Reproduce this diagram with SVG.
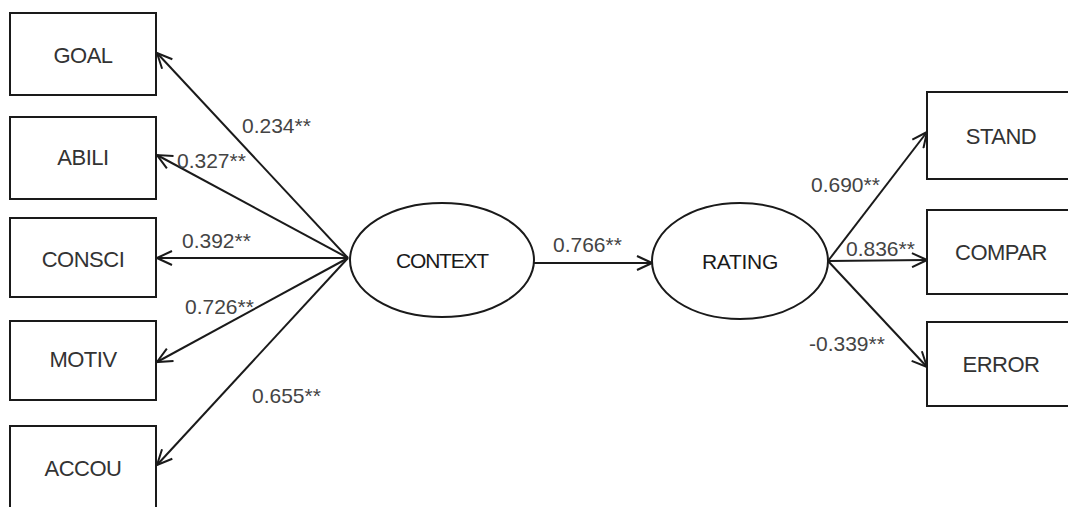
<svg xmlns="http://www.w3.org/2000/svg" width="1068" height="507" viewBox="0 0 1068 507">
<defs>
<marker id="ah" markerUnits="userSpaceOnUse" viewBox="0 0 17 16" refX="16" refY="8" markerWidth="17" markerHeight="16" orient="auto">
<path d="M1,1 L16,8 L1,15" fill="none" stroke="#1a1a1a" stroke-width="2"/>
</marker>
</defs>
<style>
.box{fill:#fff;stroke:#1a1a1a;stroke-width:2}
.ell{fill:#fff;stroke:#1a1a1a;stroke-width:2}
.nl{font-family:"Liberation Sans",Arial,sans-serif;font-size:22px;fill:#333;text-anchor:middle;letter-spacing:-0.5px}
.lv{font-family:"Liberation Sans",Arial,sans-serif;font-size:21px;fill:#1a1a1a;text-anchor:middle;letter-spacing:-1.2px}
.cf{font-family:"Liberation Sans",Arial,sans-serif;font-size:21px;fill:#444}
.c{stroke:#1a1a1a;stroke-width:2;fill:none;marker-end:url(#ah)}
</style>
<rect width="1068" height="507" fill="#fff"/>
<g id="connectors">
<line class="c" x1="348" y1="258" x2="157" y2="53"/>
<line class="c" x1="348" y1="258" x2="157" y2="155"/>
<line class="c" x1="348" y1="258" x2="157" y2="258"/>
<line class="c" x1="348" y1="258" x2="157" y2="362"/>
<line class="c" x1="348" y1="258" x2="157" y2="465"/>
<line class="c" x1="534" y1="263" x2="652" y2="263"/>
<line class="c" x1="828" y1="261" x2="927" y2="132"/>
<line class="c" x1="828" y1="261" x2="927" y2="260"/>
<line class="c" x1="828" y1="261" x2="927" y2="367"/>
</g>
<g id="labels">
<text class="cf" x="242" y="133">0.234**</text>
<text class="cf" x="177" y="168">0.327**</text>
<text class="cf" x="182" y="248">0.392**</text>
<text class="cf" x="185" y="314">0.726**</text>
<text class="cf" x="252" y="403">0.655**</text>
<text class="cf" x="553" y="252">0.766**</text>
<text class="cf" x="811" y="192">0.690**</text>
<text class="cf" x="846" y="256">0.836**</text>
<text class="cf" x="809" y="351">-0.339**</text>
</g>
<g id="GOAL"><rect class="box" x="10" y="13" width="146" height="82"/><text class="nl" x="83" y="63">GOAL</text></g>
<g id="ABILI"><rect class="box" x="10" y="117" width="146" height="82"/><text class="nl" x="83" y="165">ABILI</text></g>
<g id="CONSCI"><rect class="box" x="10" y="218" width="146" height="79"/><text class="nl" x="83" y="267">CONSCI</text></g>
<g id="MOTIV"><rect class="box" x="10" y="321" width="146" height="79"/><text class="nl" x="83" y="367">MOTIV</text></g>
<g id="ACCOU"><rect class="box" x="10" y="426" width="146" height="90"/><text class="nl" x="83" y="476">ACCOU</text></g>
<g id="CONTEXT"><ellipse class="ell" cx="442" cy="260" rx="92" ry="57"/><text class="lv" x="442" y="268">CONTEXT</text></g>
<g id="RATING"><ellipse class="ell" cx="740" cy="261" rx="88" ry="58"/><text class="lv" x="740" y="269" style="letter-spacing:-0.3px">RATING</text></g>
<g id="STAND"><rect class="box" x="927" y="92" width="170" height="87"/><text class="nl" x="1001" y="144">STAND</text></g>
<g id="COMPAR"><rect class="box" x="927" y="210" width="170" height="84"/><text class="nl" x="1001" y="260">COMPAR</text></g>
<g id="ERROR"><rect class="box" x="927" y="322" width="170" height="84"/><text class="nl" x="1001" y="372">ERROR</text></g>
</svg>
